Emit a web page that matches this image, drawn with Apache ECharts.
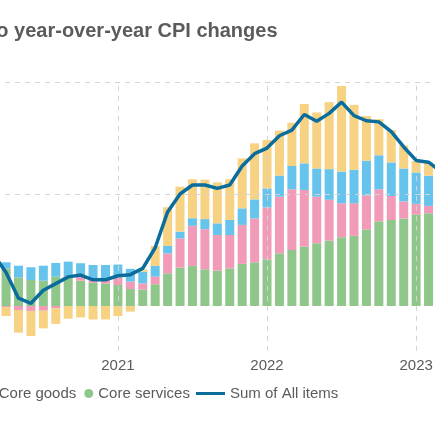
<!DOCTYPE html>
<html><head><meta charset="utf-8">
<script src="https://cdn.jsdelivr.net/npm/echarts@6/dist/echarts.min.js"></script>
<style>
html,body{margin:0;padding:0;overflow:hidden;width:435px;height:435px;background:#fff}
#chart{position:absolute;left:-200px;top:0;width:700px;height:435px}
</style>
</head><body><div id="chart"></div>
<script>
const months = ['2020-01','2020-02','2020-03','2020-04','2020-05','2020-06','2020-07','2020-08','2020-09','2020-10','2020-11','2020-12',
  '2021-01','2021-02','2021-03','2021-04','2021-05','2021-06','2021-07','2021-08','2021-09','2021-10','2021-11','2021-12',
  '2022-01','2022-02','2022-03','2022-04','2022-05','2022-06','2022-07','2022-08','2022-09','2022-10','2022-11','2022-12',
  '2023-01','2023-02'];
const coreServices = [1.85,1.85,1.68,1.28,1.16,1.13,1.31,1.31,1.13,1.04,1.01,0.94,
  0.76,0.74,0.97,1.46,1.71,1.79,1.64,1.58,1.68,1.88,1.95,2.08,
  2.35,2.50,2.65,2.80,2.92,3.07,3.13,3.42,3.78,3.84,3.91,4.08,
  4.14,4.15];
const coreGoods = [-0.05,-0.05,-0.05,-0.18,-0.22,-0.21,-0.10,0.03,0.18,0.15,0.22,0.34,
  0.33,0.27,0.34,0.89,1.31,1.79,1.79,1.59,1.49,1.74,1.96,2.32,
  2.53,2.71,2.53,2.08,1.82,1.52,1.46,1.52,1.43,1.07,0.76,0.48,
  0.33,0.25];
const food = [0.28,0.30,0.27,0.52,0.57,0.67,0.61,0.64,0.60,0.64,0.60,0.57,
  0.57,0.52,0.48,0.33,0.30,0.34,0.45,0.52,0.67,0.74,0.85,0.85,
  0.94,1.04,1.19,1.26,1.37,1.41,1.49,1.55,1.52,1.50,1.47,1.40,
  1.35,1.30];
const energy = [0.42,0.20,-0.40,-1.01,-1.12,-0.79,-0.70,-0.57,-0.51,-0.60,-0.60,-0.45,
  -0.25,0.10,0.89,1.73,2.01,1.74,1.76,1.83,1.82,2.23,2.50,2.16,
  2.01,1.93,2.65,2.50,2.99,3.82,2.90,1.99,1.61,1.44,1.03,0.51,
  0.58,0.30];
const allItems = [2.5,2.3,1.5,0.35,0.12,0.7,1.0,1.3,1.38,1.17,1.17,1.35,
  1.4,1.68,2.6,4.2,5.0,5.4,5.4,5.25,5.4,6.25,6.8,7.05,
  7.6,7.85,8.55,8.25,8.6,9.1,8.5,8.27,8.22,7.78,7.1,6.5,
  6.42,6.0];
const yGridValues = [5, 10];
const tickMonths = ['2020-12','2021-12','2022-12'];
const tickLabels = ['2021','2022','2023'];
const colors = {energy:'#f8d283', food:'#66c3eb', goods:'#f29bb8', services:'#8fc689', line:'#0b6d9c'};

const FONT = '"Liberation Sans", Arial, sans-serif';
const TXT = '#5b5b5b';
const chart = echarts.init(document.getElementById('chart'), null, {renderer:'canvas'});

function bar(name, data, color){
  return {name, type:'bar', stack:'cpi', data, barWidth:9, itemStyle:{color}, z:2,
    emphasis:{disabled:true}, animation:false};
}
const gridStyle = {type:[5,5], color:'#d4d4d4', width:1};

chart.setOption({
  animation:false,
  title:{text:'Contributions to year-over-year CPI changes', left:48, top:16,
    textStyle:{fontFamily:FONT, fontSize:20, fontWeight:'bold', color:TXT}},
  legend:[
    {data:['Energy','Food','Core goods','Core services'], left:59, top:386, padding:0,
      icon:'circle', itemWidth:9, itemHeight:9, itemGap:8,
      textStyle:{fontFamily:FONT, fontSize:15, color:TXT}},
    {data:[{name:'Sum of All items', icon:'rect'}], left:396, top:386, padding:0,
      itemWidth:29, itemHeight:3,
      textStyle:{fontFamily:FONT, fontSize:15, color:TXT}}
  ],
  grid:{left:175, top:82, width:472.2, height:268.8, containLabel:false},
  xAxis:{type:'category', data:months, boundaryGap:true,
    axisLine:{show:false}, axisTick:{show:false}, splitLine:{show:false},
    axisLabel:{interval:(i,v)=>tickMonths.includes(v), formatter:v=>tickLabels[tickMonths.indexOf(v)] || '',
      fontFamily:FONT, fontSize:15, color:TXT, margin:8}},
  yAxis:{type:'value', min:-2, max:10, interval:1, splitLine:{show:false},
    axisLine:{show:false}, axisTick:{show:false},
    axisLabel:{show:false}},
  series:[
    {name:'grid', type:'line', data:[], z:0, silent:true,
      markLine:{silent:true, symbol:['none','none'], label:{show:false}, lineStyle:gridStyle, animation:false,
        data:[...yGridValues.map(v=>({yAxis:v})), ...tickMonths.map(m=>({xAxis:m}))]}},
    bar('Core services', coreServices, colors.services),
    bar('Core goods', coreGoods, colors.goods),
    bar('Food', food, colors.food),
    bar('Energy', energy, colors.energy),
    {name:'Sum of All items', type:'line', data:allItems, symbol:'none', z:10,
      itemStyle:{color:colors.line}, lineStyle:{color:colors.line, width:3.5}, emphasis:{disabled:true}}
  ]
});
</script></body></html>
